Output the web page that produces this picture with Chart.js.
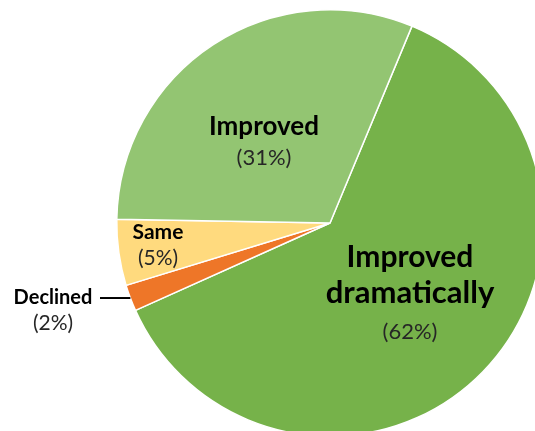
<!DOCTYPE html>
<html>
<head>
<meta charset="utf-8">
<script src="https://cdn.jsdelivr.net/npm/chart.js@4.4.0/dist/chart.umd.min.js"></script>
<style>
    html, body { margin: 0; padding: 0; overflow: hidden; background: #fff; width: 535px; height: 431px; }
    canvas { position: absolute; left: 0; top: 0; }
</style>
</head>
<body>
<canvas id="pieChart" width="660" height="446"></canvas>
<script>
// ========== DATOS ==========
const categorias = ['Improved dramatically', 'Declined', 'Same', 'Improved'];
const valores = [62, 2, 5, 31];
const colores = ['#76B24A', '#EE7628', '#FFDA7E', '#93C572'];

// ========== ETIQUETAS ==========
// lines: [texto, negrita, tamaño]; dx/dy relativos al centro del pastel
const etiquetas = [
    { lines: [['Improved', true, 30], ['dramatically', true, 31], ['(62%)', false, 22]], dx: 80, dy: 44, gap: [0, 36, 36] },
    { lines: [['Declined', true, 20], ['(2%)', false, 21]], dx: -277, dy: 81, gap: [0, 26], leader: true },
    { lines: [['Same', true, 21], ['(5%)', false, 21]], dx: -172, dy: 16, gap: [0, 26] },
    { lines: [['Improved', true, 26], ['(31%)', false, 22]], dx: -66, dy: -88, gap: [0, 30] }
];

const etiquetasPlugin = {
    id: 'etiquetas',
    afterDraw(chart) {
        const ctx = chart.ctx;
        const arc = chart.getDatasetMeta(0).data[0];
        const cx = arc.x, cy = arc.y;
        ctx.save();
        ctx.textAlign = 'center';
        ctx.textBaseline = 'alphabetic';
        etiquetas.forEach(function(et, i) {
            let y = cy + et.dy;
            et.lines.forEach(function(l, j) {
                y += et.gap[j];
                ctx.font = (l[1] ? 'bold ' : '') + l[2] + 'px Lato, "Open Sans", sans-serif';
                ctx.fillStyle = l[1] ? '#000000' : '#262626';
                ctx.fillText(l[0], cx + et.dx, y);
            });
            if (et.leader) {
                // línea guía hacia la porción
                const a = chart.getDatasetMeta(0).data[i];
                const mid = (a.startAngle + a.endAngle) / 2;
                const ex = a.x + Math.cos(mid) * a.outerRadius;
                const ey = a.y + Math.sin(mid) * a.outerRadius;
                ctx.beginPath();
                ctx.strokeStyle = '#000';
                ctx.lineWidth = 2;
                ctx.moveTo(cx + et.dx + 47, ey);
                ctx.lineTo(ex, ey);
                ctx.stroke();
            }
        });
        ctx.restore();
    }
};

// ========== GRÁFICO ==========
const ctxPie = document.getElementById('pieChart').getContext('2d');
const pieChart = new Chart(ctxPie, {
    type: 'pie',
    data: {
        labels: categorias,
        datasets: [{
            data: valores,
            backgroundColor: colores,
            borderColor: '#ffffff',
            borderWidth: 1.5
        }]
    },
    options: {
        responsive: false,
        animation: false,
        rotation: 22.6,
        layout: { padding: { top: 9, bottom: 9, left: 0, right: 0 } },
        plugins: {
            legend: { display: false },
            tooltip: { enabled: false }
        }
    },
    plugins: [etiquetasPlugin]
});
</script>
</body>
</html>
